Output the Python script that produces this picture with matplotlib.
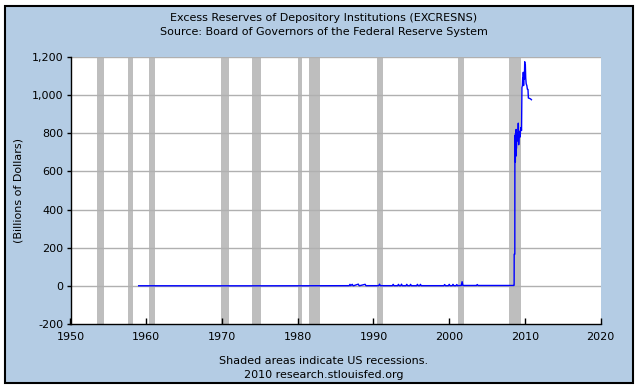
import matplotlib
matplotlib.use("Agg")
import matplotlib.pyplot as plt
from matplotlib.patches import Rectangle
from matplotlib.ticker import FuncFormatter

# ---- data ----
title_line1 = "Excess Reserves of Depository Institutions (EXCRESNS)"
title_line2 = "Source: Board of Governors of the Federal Reserve System"
footer_line1 = "Shaded areas indicate US recessions."
footer_line2 = "2010 research.stlouisfed.org"
y_label = "(Billions of Dollars)"

recession_starts = [1953.5, 1957.6, 1960.3, 1969.9, 1973.9, 1980.0, 1981.5, 1990.5, 2001.2, 2007.9]
recession_ends = [1954.4, 1958.3, 1961.1, 1970.9, 1975.2, 1980.5, 1982.9, 1991.2, 2001.9, 2009.5]

years = [1959.0, 1965.0, 1970.0, 1975.0, 1980.0, 1984.0, 1986.8,
         1986.9, 1987.0, 1987.2, 1987.3, 1987.4, 1988.0, 1988.1, 1988.2,
         1988.9, 1989.0, 1989.1, 1990.7, 1990.8, 1990.9, 1992.5, 1992.6, 1992.7,
         1993.2, 1993.3, 1993.4, 1993.6, 1993.7, 1993.8, 1994.3, 1994.4, 1994.5,
         1994.8, 1994.9, 1995.0, 1995.7, 1995.8, 1995.9, 1996.1, 1996.2, 1996.3,
         1999.3, 1999.4, 1999.5, 1999.9, 2000.0, 2000.1, 2000.4, 2000.5, 2000.6,
         2000.9, 2001.0, 2001.1, 2001.6, 2001.7, 2001.8, 2003.6, 2003.7, 2003.8,
         2008.55, 2008.57, 2008.58, 2008.66, 2008.67, 2008.71, 2008.73, 2008.76,
         2008.80, 2008.83, 2008.87, 2008.95, 2009.05, 2009.12, 2009.17, 2009.25,
         2009.35, 2009.45, 2009.55, 2009.60, 2009.66, 2009.70, 2009.74, 2009.78,
         2009.82, 2009.86, 2009.92, 2009.97, 2010.01, 2010.05, 2010.10, 2010.16,
         2010.25, 2010.32, 2010.40, 2010.45, 2010.60, 2010.75, 2010.85]
values = [0.5, 0.4, 0.3, 0.3, 0.5, 0.8, 1.0,
          8.0, 1.0, 8.0, 1.0, 1.0, 9.0, 1.0, 1.0,
          8.0, 1.0, 1.0, 1.0, 9.0, 1.0, 1.0, 8.0, 1.0,
          1.0, 8.0, 1.0, 1.0, 9.0, 1.0, 1.0, 8.0, 1.0,
          1.0, 8.0, 1.0, 1.0, 8.0, 1.0, 1.0, 8.0, 1.0,
          1.0, 7.0, 1.0, 1.0, 8.0, 1.0, 1.0, 8.0, 1.0,
          1.0, 7.0, 1.0, 2.0, 22.0, 2.0, 2.0, 7.0, 2.0,
          2.0, 5.0, 166.0, 166.0, 670.0, 790.0, 650.0, 800.0,
          680.0, 820.0, 720.0, 800.0, 760.0, 853.0, 740.0, 810.0,
          780.0, 830.0, 815.0, 1040.0, 1050.0, 1090.0, 1060.0, 1120.0,
          1050.0, 1100.0, 1084.0, 1175.0, 1130.0, 1160.0, 1090.0, 1060.0,
          1050.0, 1031.0, 1030.0, 985.0, 983.0, 980.0, 976.0]

x_ticks = [1950, 1960, 1970, 1980, 1990, 2000, 2010, 2020]
y_ticks = [-200, 0, 200, 400, 600, 800, 1000, 1200]

# ---- figure ----
W, H = 641, 390
bg = "#b4cce4"
fig = plt.figure(figsize=(W / 100, H / 100), dpi=100, facecolor="white")
frame = Rectangle((5 / W, (H - 383) / H), 628 / W, 377 / H,
                  transform=fig.transFigure, facecolor=bg,
                  edgecolor="black", linewidth=1.5, zorder=-10)
fig.add_artist(frame)

ax = fig.add_axes([70.5 / W, (H - 324) / H, 530.2 / W, 267 / H])
ax.set_zorder(5)
ax.set_facecolor("white")
ax.set_xlim(1950, 2020)
ax.set_ylim(-200, 1200)

for s, e in zip(recession_starts, recession_ends):
    ax.axvspan(s, e, color="#bebebe", lw=0, zorder=1)

for yv in y_ticks[1:]:
    ax.axhline(yv, color="#b0b0b0", lw=1.0, zorder=1.5)

ax.plot(years, values, color="#0000ff", lw=1.0, zorder=3)

ax.set_xticks(x_ticks)
ax.set_yticks(y_ticks)
ax.yaxis.set_major_formatter(FuncFormatter(lambda v, p: f"{int(v):,}"))
ax.tick_params(axis="x", direction="in", length=4, width=1, pad=6,
               labelsize=8, colors="black")
ax.tick_params(axis="y", direction="out", length=3, width=1, pad=2,
               labelsize=8, colors="black")
for side in ["top", "right"]:
    ax.spines[side].set_visible(False)
for side in ["left", "bottom"]:
    ax.spines[side].set_color("black")
    ax.spines[side].set_linewidth(1.0)

ax.set_ylabel(y_label, fontsize=8, labelpad=6)

fig.text(324 / W, 1 - 18 / H, title_line1, ha="center", va="center", fontsize=8, zorder=6)
fig.text(324 / W, 1 - 32 / H, title_line2, ha="center", va="center", fontsize=8, zorder=6)
fig.text(324 / W, 1 - 361 / H, footer_line1, ha="center", va="center", fontsize=8, zorder=6)
fig.text(324 / W, 1 - 375 / H, footer_line2, ha="center", va="center", fontsize=8, zorder=6)

fig.savefig("out.png", dpi=100, facecolor="white")
